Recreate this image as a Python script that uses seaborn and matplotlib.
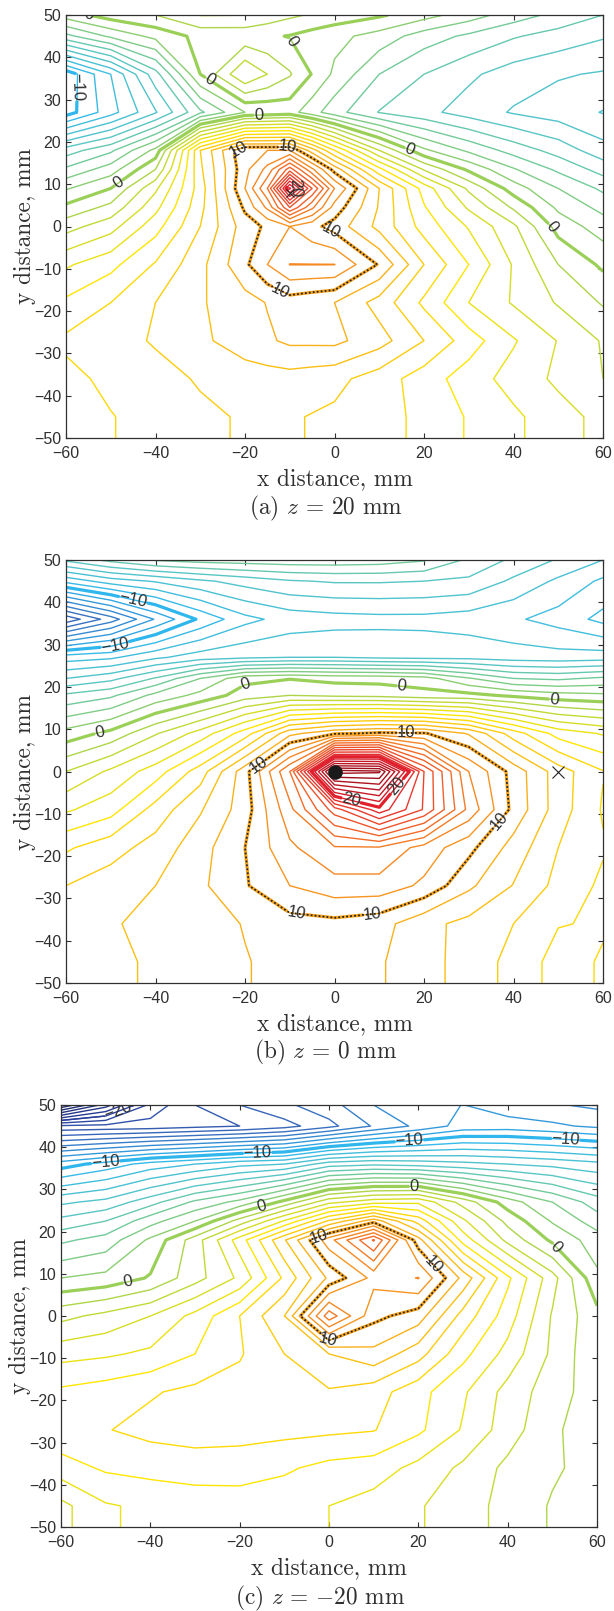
import numpy as np
import seaborn as sns
import matplotlib
matplotlib.use("Agg")
import matplotlib.pyplot as plt

x_mm = [-60, -50, -40, -30, -20, -10, 0, 10, 20, 30, 40, 50, 60]

# panel (a), z = 20 mm, with extra columns and rows around the peak
x_a = [-60, -50, -40, -30, -20, -15, -10, -5, 0, 10, 20, 30, 40, 50, 60]
y_a = [50, 45, 36, 27, 18, 13.5, 9, 4.5, 0, -9, -18, -27, -36, -45, -50]
z_a = [
    [-0.5, 0.5, 1.0, 2.05, 2.02, 1.6, 1.2, 0.9, 0.6, 0.15, -0.6, -1.5, -2.5, -3.3, -4.0],
    [-3.3, -1.8, -0.7, 0.3, 0.3, 0.15, -0.05, -0.4, -0.7, -1.4, -2.5, -3.2, -3.9, -4.4, -4.9],
    [-10.7, -8.0, -4.4, 0.0, 3.0, 2.0, 1.1, -0.05, -1.2, -3.0, -4.0, -4.8, -5.5, -5.9, -6.1],
    [-10.5, -8.4, -6.1, -3.2, -1.0, -0.8, -0.6, -1.6, -2.6, -4.05, -4.7, -5.45, -6.1, -6.5, -7.05],
    [-4.5, -3.2, -0.7, 7, 11, 11, 11, 8.5, 6, 2, -0.8, -2.2, -3.4, -4.4, -5.6],
    [-2.8, -1.5, 1, 6.8, 10.7, 12.3, 15.5, 12.2, 9.6, 5.3, 1.9, -0.2, -1.9, -3.2, -4.4],
    [-1.1, 0, 2.8, 6.5, 11, 14, 21.2, 16, 12, 8, 4.6, 1.8, -0.5, -2, -3.2],
    [0.25, 1.3, 3.7, 6.7, 10.2, 12.2, 16, 13.2, 10.6, 7.9, 5.1, 2.85, 0.85, -1.2, -2.3],
    [1.6, 2.6, 4.6, 7, 9.5, 10.2, 11, 10.3, 9.6, 7.7, 5.6, 3.9, 2.2, -0.4, -1.5],
    [3.85, 4.7, 6.1, 7.7, 9.8, 11, 12.02, 12.02, 12.02, 9.9, 7, 5, 2.9, 1, -0.2],
    [5.2, 6, 7, 7.9, 8.6, 9.05, 9.5, 9.25, 9, 7.6, 5.8, 4, 2.9, 1.9, 0.9],
    [6.2, 6.6, 7.1, 7.8, 8.5, 8.85, 9.2, 9.22, 9.25, 8.4, 7, 5.5, 4.1, 2.95, 1.9],
    [5.7, 6.25, 6.65, 7.1, 7.5, 7.55, 7.6, 7.45, 7.3, 6.5, 5.5, 4.5, 3.6, 2.8, 2],
    [5.5, 5.95, 6.4, 6.8, 7.1, 7.1, 7.1, 6.95, 6.8, 6.3, 5.8, 4.9, 4.2, 3.4, 2.7],
    [5.5, 5.95, 6.4, 6.8, 7.1, 7.1, 7.1, 6.95, 6.8, 6.3, 5.8, 4.9, 4.2, 3.4, 2.7],
]

# panel (b), z = 0 mm
y_b = [50, 45, 36, 27, 22, 18, 9, 0, -9, -18, -27, -36, -45, -50]
z_b = [
    [-4.8, -3.7, -2.9, -2.6, -2.5, -2.4, -2.4, -2.5, -2.9, -4.2, -5.2, -6.1, -7],
    [-8.7, -7.5, -6.9, -6.2, -5.6, -5.1, -4.9, -4.9, -5.0, -5.2, -6.2, -7.2, -8.2],
    [-16.7, -14.5, -11.9, -9.8, -8.3, -7.6, -7.4, -7.3, -7.3, -7.5, -7.85, -8.4, -9.3],
    [-8.5, -8.2, -7.2, -6.5, -6.2, -6, -6, -6.2, -6.3, -6.3, -6.5, -6.6, -6.5],
    [-6, -5.3, -3.9, -2, -0.3, -0.05, -0.3, -0.35, -0.6, -1.9, -3, -3.2, -2.8],
    [-3.8, -3.2, -1.7, -0.7, 0.5, 1, 0.8, 0.7, 0.4, 0.3, -0.2, -0.6, -0.8],
    [-0.6, 0.3, 1.9, 3.4, 5.5, 8.7, 9.8, 10.2, 10.1, 8.9, 6.5, 4.6, 3.9],
    [2.0, 3.2, 4.5, 6.5, 9.6, 14, 26.5, 26.2, 17, 12, 9.6, 7.5, 6.05],
    [3.85, 4.6, 6.4, 7.9, 9.5, 12.7, 16.5, 19.6, 16.9, 12.7, 9.7, 7.5, 5.9],
    [5.85, 6.6, 7.4, 8.6, 10, 11.8, 12.9, 12.9, 11.6, 10.3, 8.6, 7, 6.1],
    [7.0, 7.5, 8.0, 8.8, 9.9, 11, 11.6, 11.6, 10.8, 9.2, 7.95, 6.7, 5.8],
    [7.2, 7.9, 8.3, 8.6, 9.05, 9.6, 9.7, 9.4, 8.3, 7.7, 7.0, 6.05, 5.9],
    [7.0, 7.7, 8.2, 8.6, 8.95, 9.3, 9.5, 9.1, 8.4, 7.55, 6.7, 5.6, 6.1],
    [7.0, 7.7, 8.2, 8.6, 8.95, 9.3, 9.5, 9.1, 8.4, 7.55, 6.7, 5.6, 6.1],
]

# panel (c), z = -20 mm
y_c = [50, 45, 36, 27, 22.5, 18, 9, 0, -9, -18, -27, -36, -45, -50]
z_c = [
    [-26, -22.5, -18.7, -17, -16, -15.2, -14.4, -13, -12.4, -11.98, -12.6, -12.9, -13.2],
    [-17.8, -17.7, -17.6, -17.3, -17, -16.4, -15.3, -13.9, -12.75, -11.6, -11.5, -11.8, -12.2],
    [-10.5, -9.6, -8.6, -8, -7.3, -7, -5.5, -5.2, -5.4, -5.7, -6, -6.3, -6.7],
    [-6.2, -5.7, -4.4, -2.8, -1.7, 0.3, 2.7, 3.6, 3.8, 1.6, -0.5, -2, -3.5],
    [-4.7, -4, -2.4, -1, 1.4, 4.1, 7.15, 9.6, 6.6, 3.2, 0.7, -1.1, -2.5],
    [-3.2, -2.6, -0.8, 1.5, 4.5, 7.9, 11.6, 15.1, 9.4, 4.6, 1.7, -0.2, -1.5],
    [-1, -0.7, 0.1, 1.6, 3.2, 6.2, 9.2, 11.3, 12.05, 8.7, 5.2, 2.4, -0.8],
    [1.7, 2.3, 3, 4.3, 6, 8, 13.6, 10.3, 9.5, 6.6, 4.5, 1.9, 0.3],
    [3.65, 3.85, 4.2, 5, 5.9, 7, 8, 8.7, 7.4, 5.3, 3.65, 1.8, 0.2],
    [5.2, 5.5, 5.9, 6.25, 6.4, 6.6, 6.9, 6.45, 5.35, 4.15, 2.65, 1.45, 0.5],
    [5.75, 5.95, 6.3, 6.45, 6.4, 6.3, 6.2, 6.05, 5.2, 3.9, 2.5, 1.15, 0.5],
    [4.55, 5.15, 5.35, 5.5, 5.45, 5.15, 4.7, 4.5, 3.7, 2.8, 1.75, 1.15, 0.6],
    [2.7, 3.9, 4.2, 4.4, 4.5, 4.4, 4, 3.6, 3.1, 2.4, 1.7, 0.9, 0.3],
    [2.7, 3.9, 4.2, 4.4, 4.5, 4.4, 4, 3.6, 3.1, 2.4, 1.7, 0.9, 0.3],
]

# where the contour labels sit
labels_a = {
    -10: [(-56.5, 33)],
    0: [(-57, 49.5), (-28, 34.6), (-10, 43.5), (-17, 26.5), (16, 16.3), (48, -0.5), (-48, 10)],
    10: [(-21.5, 18.5), (-10.5, 18.8), (-1.5, -2.5), (-12, -15)],
    20: [(-8, 9)],
}
labels_b = {
    -10: [(-45, 40.5), (-49, 29.5)],
    0: [(-52.5, 9), (-20, 21), (15, 20.5), (49, 16.5)],
    10: [(-17, 1.5), (16, 9.5), (-8.5, -33), (8.5, -33.5), (37, -12)],
    20: [(4, -5.5), (14.5, -4)],
}
labels_c = {
    -20: [(-47, 48)],
    -10: [(-50, 36.5), (-16, 39.5), (18, 41.5), (53, 41.5)],
    0: [(-45, 8), (-15, 26), (19, 31), (51, 16.5)],
    10: [(-2.5, 19.5), (23.5, 12.4), (-0.5, -6)],
}

levels = np.arange(-30, 31)
thick_levels = [-10, 0, 10, 20]
W, H = 614, 1611

sns.set_style("ticks")
plt.rcParams["font.family"] = ["Liberation Sans", "DejaVu Sans"]
plt.rcParams["mathtext.fontset"] = "cm"

cmap = sns.blend_palette(
    ["#1f2a6b", "#2b409c", "#3a70c0", "#2fb8ee", "#58c6c4", "#98d05a",
     "#ffe600", "#f8a41e", "#f0602a", "#e2202e", "#a0101c"],
    n_colors=256, as_cmap=True,
)


def fmt(v):
    v = int(round(v))
    return f"\u2212{-v}" if v < 0 else f"{v}"


def panel(box, x, y, z, labels, caption, cap_y):
    left, top, right, bottom = box
    ax = fig.add_axes([left / W, 1 - bottom / H, (right - left) / W, (bottom - top) / H])
    z = np.array(z)
    kw = dict(cmap=cmap, vmin=-25, vmax=25)
    ax.contour(x, y, z, levels=levels, linewidths=1.0, **kw)
    drawn = {}
    for level in thick_levels:
        if z.min() < level < z.max():
            drawn[level] = ax.contour(x, y, z, levels=[level], linewidths=2.3, **kw)
    ax.contour(x, y, z, levels=[10], colors="#222222", linewidths=1.3, linestyles=[(0, (1, 1.2))])
    for level, spots in labels.items():
        cs = drawn.get(level)
        if cs is None:
            cs = ax.contour(x, y, z, levels=[level], linewidths=1.0, **kw)
        ax.clabel(cs, manual=spots, inline=True, inline_spacing=0, fmt=fmt,
                  fontsize=12, colors="#303030")
    ax.set_xlim(-60, 60)
    ax.set_ylim(-50, 50)
    ax.set_xticks(range(-60, 61, 20))
    ax.set_yticks(range(-50, 51, 10))
    ax.set_xticklabels([fmt(t) for t in range(-60, 61, 20)])
    ax.set_yticklabels([fmt(t) for t in range(-50, 51, 10)])
    ax.tick_params(direction="in", top=True, right=True, length=3.5, width=0.8,
                   labelsize=11.5, labelcolor="#303030", color="#303030")
    ax.tick_params(axis="x", pad=6)
    ax.tick_params(axis="y", pad=3.5)
    for s in ax.spines.values():
        s.set_linewidth(0.9)
        s.set_color("#303030")
    ax.set_xlabel("x distance, mm", family="cmr10", fontsize=16.8, color="#303030", va="center")
    ax.set_ylabel("y distance, mm", family="cmr10", fontsize=16.8, color="#303030", va="center")
    ax.xaxis.set_label_coords(0.5, -0.098)
    ax.yaxis.set_label_coords(-0.076, 0.5)
    fig.text(((left + right) / 2 - 9) / W, 1 - cap_y / H, caption, family="cmr10", fontsize=16.8,
             color="#303030", ha="center", va="center")
    return ax


fig = plt.figure(figsize=(W / 100, H / 100), dpi=100)
ax_a = panel((66, 15, 603, 438), x_a, y_a, z_a, labels_a, r"(a) $z$ = 20 mm", 508)
ax_b = panel((66, 560, 603, 983), x_mm, y_b, z_b, labels_b, r"(b) $z$ = 0 mm", 1052)
ax_c = panel((61, 1105, 597, 1527), x_mm, y_c, z_c, labels_c, "(c) $z$ = $-$20 mm", 1598)

ax_a.plot([-10], [8], marker="x", color="#222222", ms=6, mew=0.8)
ax_b.plot([0], [0], marker="o", color="#1a1a1a", ms=9.5, zorder=5)
ax_b.plot([50], [0], marker="x", color="#222222", ms=9, mew=0.8, zorder=5)

fig.savefig("out.png", dpi=100)
